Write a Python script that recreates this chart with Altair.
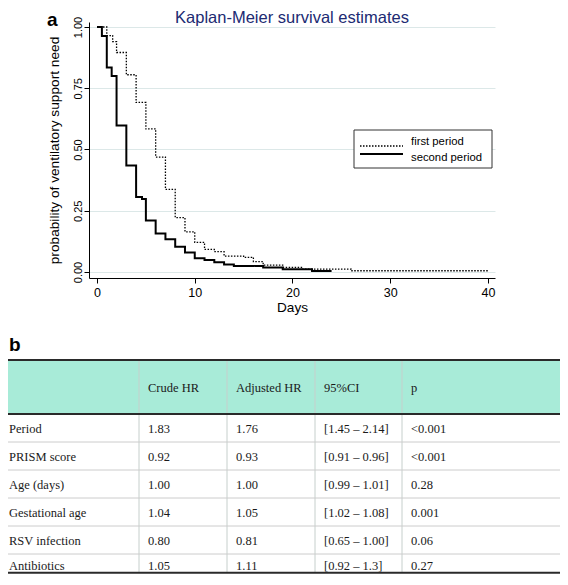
import altair as alt
import pandas as pd

# ---------------- data: Kaplan-Meier step curves ----------------
days_first = [0, 1, 1.6, 2, 3, 4, 5, 6, 7, 8, 9, 10, 11, 12, 13, 15, 16, 17, 19, 21, 26, 40]
surv_first = [1.0, 0.965, 0.94, 0.896, 0.805, 0.692, 0.584, 0.469, 0.337, 0.222, 0.164,
              0.121, 0.092, 0.083, 0.065, 0.06, 0.042, 0.028, 0.019, 0.012, 0.005, 0.005]
days_second = [0, 0.5, 1, 1.5, 2, 3, 4, 4.6, 5, 6, 7, 8, 9, 10, 11, 12, 13, 14, 17, 19, 22, 24]
surv_second = [1.0, 0.963, 0.835, 0.80, 0.598, 0.435, 0.306, 0.298, 0.21, 0.157, 0.134,
               0.103, 0.08, 0.056, 0.049, 0.04, 0.031, 0.024, 0.018, 0.011, 0.004, 0.004]
periods = ["first period", "second period"]
y_ticks = [0, 0.25, 0.5, 0.75, 1.0]
x_ticks = [0, 10, 20, 30, 40]

# ---------------- data: hazard ratio table ----------------
col_headers = ["", "Crude HR", "Adjusted HR", "95%CI", "p"]
row_labels = ["Period", "PRISM score", "Age (days)", "Gestational age", "RSV infection", "Antibiotics"]
crude_hr = ["1.83", "0.92", "1.00", "1.04", "0.80", "1.05"]
adjusted_hr = ["1.76", "0.93", "1.00", "1.05", "0.81", "1.11"]
ci95 = ["[1.45 \u2013 2.14]", "[0.91 \u2013 0.96]", "[0.99 \u2013 1.01]", "[1.02 \u2013 1.08]",
        "[0.65 \u2013 1.00]", "[0.92 \u2013 1.3]"]
p_values = ["<0.001", "<0.001", "0.28", "0.001", "0.06", "0.27"]

# ---------------- layout (pixels relative to the plot area) ----------------
W, H = 406, 256
PAD = {"left": 81, "top": 14, "right": 65, "bottom": 296}
SANS = "Liberation Sans"
SERIF = "Liberation Serif"
TITLE_COLOR = "#202a72"
TEAL = "#a8ebd8"
GRID = "#dce8e8"

km = pd.DataFrame({
    "day": days_first + days_second,
    "surv": surv_first + surv_second,
    "period": [periods[0]] * len(days_first) + [periods[1]] * len(days_second),
})

DASH = alt.Scale(domain=periods, range=[[1.5, 1.5], [1, 0]])
WIDTH = alt.Scale(domain=periods, range=[1.3, 2.0])

lines = alt.Chart(km).mark_line(interpolate="step-after", color="black").encode(
    x=alt.X("day:Q", title="Days",
            scale=alt.Scale(domain=[-0.82, 40.72], nice=False, zero=False),
            axis=alt.Axis(values=x_ticks, format="d", grid=False, tickSize=5,
                          labelPadding=3, labelFontSize=12.5, titleFontSize=13.6,
                          titlePadding=2, titleFontWeight="normal")),
    y=alt.Y("surv:Q", title="probability of ventilatory support need",
            scale=alt.Scale(domain=[-0.0245, 1.0204], nice=False, zero=False),
            axis=alt.Axis(values=y_ticks, format=".2f", grid=True, gridColor=GRID,
                          tickSize=5, labelAngle=270, labelAlign="center",
                          labelBaseline="bottom", labelPadding=1, labelFontSize=11,
                          titleFontSize=13.7, titlePadding=11, titleFontWeight="normal")),
    strokeDash=alt.StrokeDash("period:N", scale=DASH, legend=None),
    strokeWidth=alt.StrokeWidth("period:N", scale=WIDTH, legend=None),
)

# ---------------- legend (boxed, inside the plot) ----------------
legend_df = pd.DataFrame({"period": periods})
LY = alt.Scale(domain=periods, range=[120, 136], padding=0)

leg_box = alt.Chart(pd.DataFrame({"k": [0]})).mark_rect(
    fill="white", stroke="#333333", strokeWidth=1).encode(
    x=alt.value(265), x2=alt.value(403), y=alt.value(108), y2=alt.value(146))

leg_lines = alt.Chart(legend_df).mark_rule(color="black").encode(
    y=alt.Y("period:N", scale=LY, axis=None),
    x=alt.value(271), x2=alt.value(314),
    strokeDash=alt.StrokeDash("period:N", scale=DASH, legend=None),
    strokeWidth=alt.StrokeWidth("period:N", scale=WIDTH, legend=None))

leg_text = alt.Chart(legend_df).mark_text(
    align="left", baseline="middle", font=SANS, fontSize=11.3, color="black").encode(
    y=alt.Y("period:N", scale=LY, axis=None),
    x=alt.value(322), text="period:N")

# ---------------- table ----------------
TX = alt.Scale(domain=[0, 1, 2, 3, 4, 5], range=[-89, 50, 138, 226, 313, 479], nice=False, zero=False)
TY = alt.Scale(domain=[0, 1, 2, 3, 4, 5, 6, 7], range=[338, 392, 420, 448, 476, 504, 532, 554],
               nice=False, zero=False)
TABLE_BOTTOM = 6.85

band = alt.Chart(pd.DataFrame({"x0": [0], "x1": [5], "y0": [0], "y1": [1]})).mark_rect(
    fill=TEAL).encode(
    x=alt.X("x0:Q", scale=TX, axis=None), x2="x1",
    y=alt.Y("y0:Q", scale=TY, axis=None), y2="y1")

vlines = alt.Chart(pd.DataFrame({"c": [1, 2, 3, 4], "y0": 0, "y1": TABLE_BOTTOM})).mark_rule(
    color="#c6cfcc", strokeWidth=1).encode(
    x=alt.X("c:Q", scale=TX, axis=None),
    y=alt.Y("y0:Q", scale=TY, axis=None), y2="y1")

hlines = alt.Chart(pd.DataFrame({"r": [2, 3, 4, 5, 6], "x0": 0, "x1": 5})).mark_rule(
    color="#cccccc", strokeWidth=1).encode(
    y=alt.Y("r:Q", scale=TY, axis=None),
    x=alt.X("x0:Q", scale=TX, axis=None), x2="x1")

thick = alt.Chart(pd.DataFrame({"r": [0, 1, TABLE_BOTTOM], "x0": 0, "x1": 5})).mark_rule(
    color="#2a2a2a", strokeWidth=2).encode(
    y=alt.Y("r:Q", scale=TY, axis=None),
    x=alt.X("x0:Q", scale=TX, axis=None), x2="x1")

cells = []
for c, h in enumerate(col_headers):
    cells.append({"c": c, "r": 0.5, "t": h})
for i in range(len(row_labels)):
    vals = [row_labels[i], crude_hr[i], adjusted_hr[i], ci95[i], p_values[i]]
    for c, v in enumerate(vals):
        cells.append({"c": c, "r": i + 1.5, "t": v})
cells = pd.DataFrame(cells)

text = alt.Chart(cells).mark_text(
    align="left", baseline="middle", dx=9, dy=1, font=SERIF, fontSize=12.5, color="#1a1a1a").encode(
    x=alt.X("c:Q", scale=TX, axis=None),
    y=alt.Y("r:Q", scale=TY, axis=None),
    text="t:N")

# ---------------- annotations ----------------
title = alt.Chart(pd.DataFrame({"t": ["Kaplan-Meier survival estimates"]})).mark_text(
    align="center", baseline="alphabetic", font=SANS, fontSize=16.5, color=TITLE_COLOR).encode(
    x=alt.value(W / 2), y=alt.value(1), text="t:N")

lab_a = alt.Chart(pd.DataFrame({"t": ["a"]})).mark_text(
    align="left", baseline="alphabetic", font=SANS, fontSize=19, fontWeight="bold", color="black").encode(
    x=alt.value(-42), y=alt.value(3.5), text="t:N")

lab_b = alt.Chart(pd.DataFrame({"t": ["b"]})).mark_text(
    align="left", baseline="alphabetic", font=SANS, fontSize=19, fontWeight="bold", color="black").encode(
    x=alt.value(-80), y=alt.value(329), text="t:N")

chart = alt.layer(
    band, vlines, hlines, thick, text, lines, leg_box, leg_lines, leg_text, title, lab_a, lab_b
).resolve_scale(
    x="independent", y="independent"
).properties(
    width=W, height=H, padding=PAD, autosize=alt.AutoSizeParams(type="none"), background="white"
).configure_view(stroke=None).configure_axis(
    labelFont=SANS, titleFont=SANS, labelColor="black", titleColor="black",
    domainColor="black", tickColor="black", domainWidth=1, tickWidth=1,
)

chart.save("out.html", embed_options={"renderer": "svg", "actions": False})
